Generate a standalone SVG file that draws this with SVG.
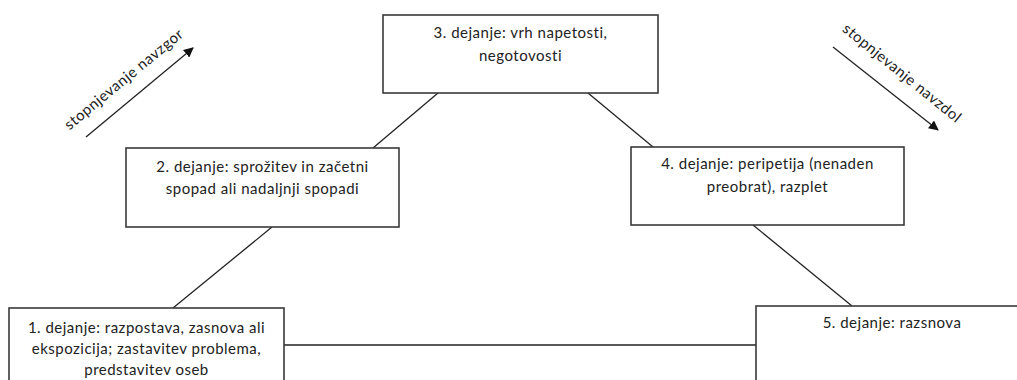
<svg xmlns="http://www.w3.org/2000/svg" width="1017" height="380" viewBox="0 0 1017 380">
<style>
.box{fill:#fff;stroke:#3a3a3a;stroke-width:1.6}
.t{font-family:Lato,"Open Sans",sans-serif;font-size:15px;letter-spacing:0.5px;fill:#222;text-anchor:middle}
.c{stroke:#222;stroke-width:1.3;fill:none}
</style>
<defs>
<marker id="ah" viewBox="0 0 10 10" refX="9" refY="5" markerWidth="10" markerHeight="10" markerUnits="userSpaceOnUse" orient="auto">
<path d="M0,0 L10,5 L0,10 z" fill="#111"/>
</marker>
</defs>
<rect width="1017" height="380" fill="#fff"/>
<g id="connectors">
<line class="c" x1="284" y1="345" x2="756" y2="345"/>
<line class="c" x1="173" y1="308" x2="272" y2="227"/>
<line class="c" x1="373" y1="148" x2="438" y2="93"/>
<line class="c" x1="588" y1="93" x2="653" y2="147"/>
<line class="c" x1="753" y1="225" x2="852" y2="306"/>
<line class="c" x1="86" y1="137" x2="193" y2="48" marker-end="url(#ah)"/>
<line class="c" x1="833" y1="47" x2="938" y2="130" marker-end="url(#ah)"/>
</g>
<g id="label-up"><text class="t" transform="translate(127,83) rotate(-39.5)">stopnjevanje navzgor</text></g>
<g id="label-down"><text class="t" transform="translate(899,77) rotate(39)">stopnjevanje navzdol</text></g>
<g id="node3">
<rect class="box" x="383" y="15" width="275" height="78"/>
<text class="t" x="520.5" y="38">3. dejanje: vrh napetosti,</text>
<text class="t" x="520.5" y="61">negotovosti</text>
</g>
<g id="node2">
<rect class="box" x="126" y="148" width="273" height="79"/>
<text class="t" x="262.5" y="172">2. dejanje: sprožitev in začetni</text>
<text class="t" x="262.5" y="194">spopad ali nadaljnji spopadi</text>
</g>
<g id="node4">
<rect class="box" x="631" y="147" width="273" height="78"/>
<text class="t" x="767.5" y="169">4. dejanje: peripetija (nenaden</text>
<text class="t" x="767.5" y="192">preobrat), razplet</text>
</g>
<g id="node1">
<rect class="box" x="9" y="308" width="275" height="90"/>
<text class="t" x="146.5" y="333">1. dejanje: razpostava, zasnova ali</text>
<text class="t" x="146.5" y="354">ekspozicija; zastavitev problema,</text>
<text class="t" x="146.5" y="375">predstavitev oseb</text>
</g>
<g id="node5">
<rect class="box" x="756" y="306" width="280" height="90"/>
<text class="t" x="892" y="328">5. dejanje: razsnova</text>
</g>
</svg>
